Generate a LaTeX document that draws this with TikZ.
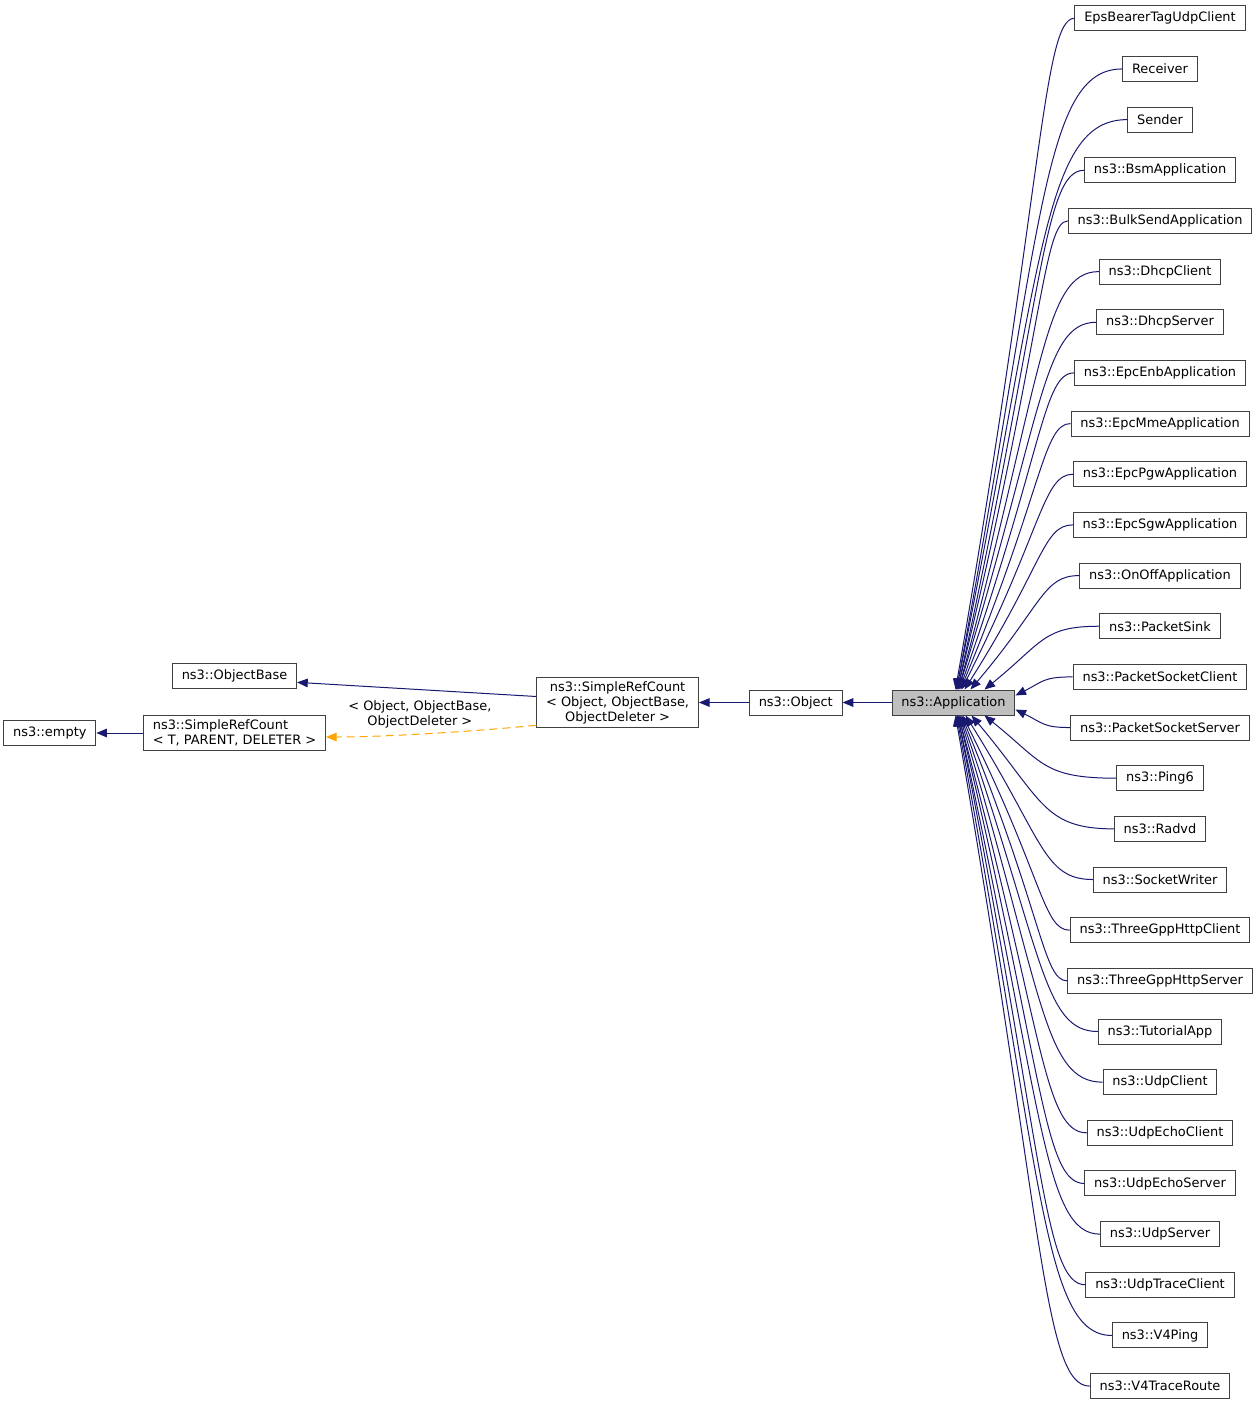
\documentclass[tikz,border=0pt]{standalone}
\usepackage{fontspec}
\setmainfont{DejaVu Sans}
\usetikzlibrary{arrows.meta,positioning,calc}
\definecolor{edgeNavy}{HTML}{191970}
\definecolor{tmplOrange}{HTML}{FFA500}
\definecolor{boxGrey}{HTML}{404040}
\definecolor{focusGrey}{HTML}{BFBFBF}
\newcommand{\graphfont}{\fontsize{9.7pt}{11.25pt}\selectfont}

\begin{document}
\begin{tikzpicture}[x=0.75pt, y=-0.75pt,
  cls/.style={draw=boxGrey, fill=white, font=\graphfont, line width=0.75pt,
              inner xsep=7pt, inner ysep=2pt, minimum height=18.75pt},
  focus/.style={cls, fill=focusGrey},
  inh/.style={edgeNavy, line width=0.75pt, -{Triangle[length=8pt,width=6.5pt]}},
  tmpl/.style={tmplOrange, line width=0.75pt, dash pattern=on 6pt off 3.75pt,
               -{Triangle[length=8pt,width=6.5pt]}},
  lbl/.style={font=\graphfont, text=black, align=center, inner sep=1pt}
]
\useasboundingbox (0,0) rectangle (1259,1405);

% base chain
\node[focus] (app) at (953.5,702.5) {ns3::Application};
\node[cls, left=36.75pt of app] (object) {ns3::Object};
\node[cls, align=center, inner ysep=3pt, left=37.5pt of object] (srcobj)
  {ns3::SimpleRefCount\\< Object, ObjectBase,\\ObjectDeleter >};
\node[cls, align=left, inner ysep=3pt] (srct) at (234.5,733)
  {ns3::SimpleRefCount\\< T, PARENT, DELETER >};
\node[cls, above=19.5pt of srct] (objbase) {ns3::ObjectBase};
\node[cls, left=35pt of srct] (empty) {ns3::empty};

\draw[inh] (app) -- (object);
\draw[inh] (object) -- (srcobj);
\draw[inh] ([shift={(0,-6)}]srcobj.west) -- ([shift={(0,6)}]objbase.east);
\draw[inh] (srct) -- (empty);
\draw[tmpl] ([shift={(0,-3)}]srcobj.south west) .. controls +(-60,6) and +(60,0) ..
  ([shift={(0,4)}]srct.east)
  node[lbl, pos=0.55, above=3pt] {< Object, ObjectBase,\\ObjectDeleter >};

% derived classes
\coordinate (knee) at (1043,0);
\foreach \nm/\txt/\anc/\dx/\dy [count=\i from 0] in {
  epsbearer/EpsBearerTagUdpClient/north/2/0,
  receiver/Receiver/north/3/0,
  sender/Sender/north/3/0,
  bsm/ns3::BsmApplication/north/4/0,
  bulksend/ns3::BulkSendApplication/north/4/0,
  dhcpclient/ns3::DhcpClient/north/5/0,
  dhcpserver/ns3::DhcpServer/north/5/0,
  epcenb/ns3::EpcEnbApplication/north/6/0,
  epcmme/ns3::EpcMmeApplication/north/7/0,
  epcpgw/ns3::EpcPgwApplication/north/8/0,
  epcsgw/ns3::EpcSgwApplication/north/11/0,
  onoff/ns3::OnOffApplication/north/17/0,
  packetsink/ns3::PacketSink/north/31/0,
  pktsockclient/ns3::PacketSocketClient/east/0/-7,
  pktsockserver/ns3::PacketSocketServer/east/0/7,
  ping6/ns3::Ping6/south/31/0,
  radvd/ns3::Radvd/south/18/0,
  sockwriter/ns3::SocketWriter/south/12/0,
  httpclient/ns3::ThreeGppHttpClient/south/9/0,
  httpserver/ns3::ThreeGppHttpServer/south/8/0,
  tutorial/ns3::TutorialApp/south/7/0,
  udpclient/ns3::UdpClient/south/6/0,
  echoclient/ns3::UdpEchoClient/south/5/0,
  echoserver/ns3::UdpEchoServer/south/5/0,
  udpserver/ns3::UdpServer/south/4/0,
  traceclient/ns3::UdpTraceClient/south/4/0,
  vfourping/ns3::V4Ping/south/3/0,
  traceroute/ns3::V4TraceRoute/south/2/0}{
  \node[cls] (\nm) at (1160,{18.3+50.66*\i}) {\txt};
  \coordinate (tgt) at ([shift={(\dx,\dy)}]app.\anc);
  \coordinate (kA) at (knee |- \nm.west);
  \coordinate (kB) at (knee |- tgt);
  \draw[inh] (\nm.west) .. controls (kA) and ($(kA)!.25!(kB)$) .. (tgt);
}
\end{tikzpicture}
\end{document}
